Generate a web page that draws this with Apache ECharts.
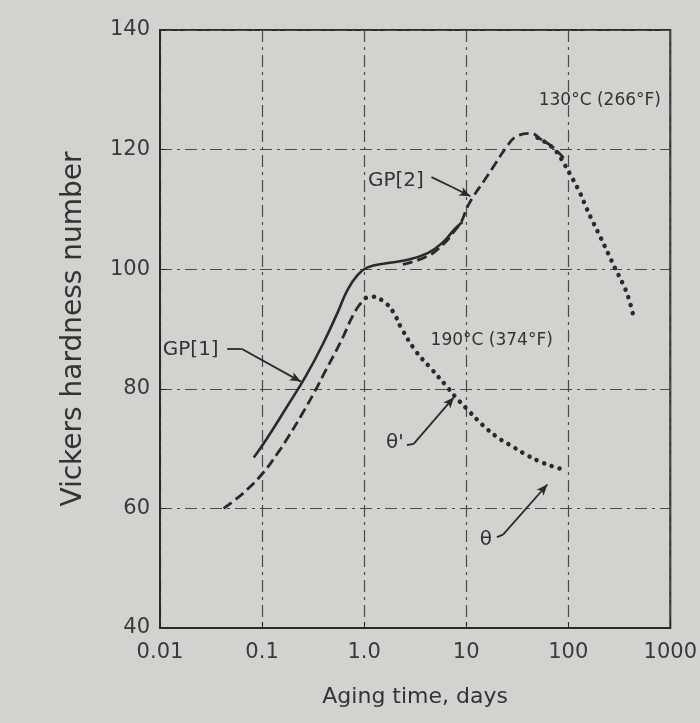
<!DOCTYPE html>
<html><head><meta charset="utf-8">
<script src="https://cdn.jsdelivr.net/npm/echarts@6/dist/echarts.min.js"></script>
<style>html,body{margin:0;padding:0;background:#d4d2ce}#c{width:700px;height:723px}</style>
</head><body><div id="c"></div>
<script>
// ---- data (aging time in days, Vickers hardness) ----
const xTickLabels = {0.01:'0.01', 0.1:'0.1', 1:'1.0', 10:'10', 100:'100', 1000:'1000'};
const yTicks = [40, 60, 80, 100, 120, 140];

// 130°C curve
const gp1_130_t = [0.083, 0.108, 0.171, 0.27, 0.40, 0.548, 0.69, 0.87, 1.08, 1.65, 2.4, 4.2, 6.0, 7.7, 9.2];
const gp1_130_v = [68.5, 71.3, 76.7, 82.2, 87.7, 92.7, 96.6, 99.1, 100.3, 101.0, 101.4, 102.7, 104.6, 106.7, 107.9];
const gp2_130_t = [2.4, 4.2, 6.0, 7.7, 9.0, 10.2, 11.8, 15.0, 19.6, 24.3, 31.0, 43.6, 53, 64.6, 78.5, 90];
const gp2_130_v = [100.8, 102.2, 104.2, 106.4, 108.0, 110.3, 112.2, 114.8, 117.8, 120.2, 122.2, 122.7, 121.8, 120.9, 119.7, 118.6];
const th_130_t = [50, 65, 78, 90, 105, 131, 151, 177, 209, 245, 287, 340, 390, 437];
const th_130_v = [122.0, 120.8, 119.5, 117.8, 115.8, 112.7, 110.2, 107.7, 105.2, 102.7, 100.2, 97.7, 95.2, 92.0];

// 190°C curve
const gp2_190_t = [0.042, 0.055, 0.071, 0.103, 0.143, 0.183, 0.249, 0.33, 0.418, 0.53, 0.635, 0.743, 0.88, 1.04];
const gp2_190_v = [60.0, 61.5, 63.1, 66.0, 69.3, 72.1, 75.9, 79.6, 83.0, 86.3, 89.0, 91.6, 93.8, 95.2];
const th_190_t = [1.04, 1.2, 1.63, 1.95, 2.31, 3.24, 4.47, 6.3, 7.9, 10.6, 14.6, 20.2, 28.2, 39.4, 55.2, 77.6, 92];
const th_190_v = [95.2, 95.4, 94.3, 92.7, 90.2, 86.2, 83.5, 80.6, 78.6, 76.3, 73.9, 71.9, 70.4, 68.9, 67.7, 66.8, 66.5];

// annotations (anchor positions in data space)
const noteTexts = ['GP[1]', 'GP[2]', "θ'", 'θ', '130°C (266°F)', '190°C (374°F)'];
const noteAt = [[0.02, 86.5], [2.05, 114.7], [2.0, 70.9], [15.6, 54.8], [204, 128.2], [17.8, 88]];
const arrowPaths = [
  [[0.0455, 86.7], [0.063, 86.7], [0.24, 81.2]],
  [[4.57, 115.4], [7.36, 113.7], [11.0, 112.2]],
  [[2.63, 70.6], [3.06, 70.8], [7.6, 78.6]],
  [[20.0, 55.2], [23.0, 55.6], [62.4, 64.0]]
];

const zip = (a, b) => a.map((t, i) => [t, b[i]]);
const ink = '#2a2a2a';
const font = 'DejaVu Sans';

const chart = echarts.init(document.getElementById('c'));

const arrowMarkData = [];
arrowPaths.forEach(p => {
  for (let i = 0; i < p.length - 1; i++) {
    const last = i === p.length - 2;
    arrowMarkData.push([
      {coord: p[i], symbol: 'none'},
      {coord: p[i + 1], symbol: last ? 'arrow' : 'none', symbolSize: last ? [7, 11] : 0}
    ]);
  }
});

const curve = (name, t, v, style) => ({
  name, type: 'line', data: zip(t, v), showSymbol: false, smooth: 0.45,
  lineStyle: Object.assign({color: ink}, style), z: 3
});

const option = {
  backgroundColor: '#d4d2ce',
  animation: false,
  grid: {left: 160, right: 8, top: 30, bottom: 95, show: true, borderColor: ink, borderWidth: 2, backgroundColor: 'transparent'},
  xAxis: {
    type: 'log', logBase: 10, min: 0.01, max: 1000,
    name: 'Aging time, days', nameLocation: 'middle', nameGap: 58,
    nameTextStyle: {fontFamily: font, fontSize: 22, color: '#333'},
    axisLine: {lineStyle: {color: ink, width: 2}},
    axisTick: {inside: true, length: 6, lineStyle: {color: ink}},
    minorTick: {show: false},
    axisLabel: {fontFamily: font, fontSize: 21, color: '#3a3a3a', margin: 14,
      formatter: v => xTickLabels[+(+v).toPrecision(3)] || ''},
    splitLine: {show: true, lineStyle: {color: '#4a4a4a', width: 1.2, type: [12, 5, 3, 5]}}
  },
  yAxis: {
    type: 'value', min: 40, max: 140, interval: 20,
    name: 'Vickers hardness number', nameLocation: 'middle', nameGap: 72,
    nameTextStyle: {fontFamily: font, fontSize: 28, color: '#333'},
    axisLine: {show: true, lineStyle: {color: ink, width: 2}},
    axisTick: {show: true, inside: true, length: 6, lineStyle: {color: ink}},
    axisLabel: {fontFamily: font, fontSize: 21, color: '#3a3a3a', margin: 10},
    splitLine: {show: true, lineStyle: {color: '#4a4a4a', width: 1.2, type: [12, 5, 3, 5]}}
  },
  series: [
    curve('GP[1] 130°C', gp1_130_t, gp1_130_v, {width: 2.6}),
    curve('GP[2] 130°C', gp2_130_t, gp2_130_v, {width: 2.8, type: [10, 5]}),
    curve("θ' 130°C", th_130_t, th_130_v, {width: 4.5, type: [0.1, 8], cap: 'round'}),
    curve('GP[2] 190°C', gp2_190_t, gp2_190_v, {width: 2.8, type: [10, 5]}),
    Object.assign(curve("θ' 190°C", th_190_t, th_190_v, {width: 4.5, type: [0.1, 8], cap: 'round'}), {
      markLine: {silent: true, animation: false, label: {show: false},
        lineStyle: {color: ink, width: 1.8, type: 'solid'}, data: arrowMarkData}})
  ]
};
chart.setOption(option);

const fontSizes = [20, 20, 20, 20, 17, 17];
chart.setOption({
  graphic: noteTexts.map((t, i) => {
    const p = chart.convertToPixel({gridIndex: 0}, noteAt[i]);
    return {type: 'text', x: p[0], y: p[1], z: 10,
      style: {text: t, fill: '#333', font: fontSizes[i] + 'px "' + font + '"', align: 'center', verticalAlign: 'middle'}};
  })
});
</script></body></html>
